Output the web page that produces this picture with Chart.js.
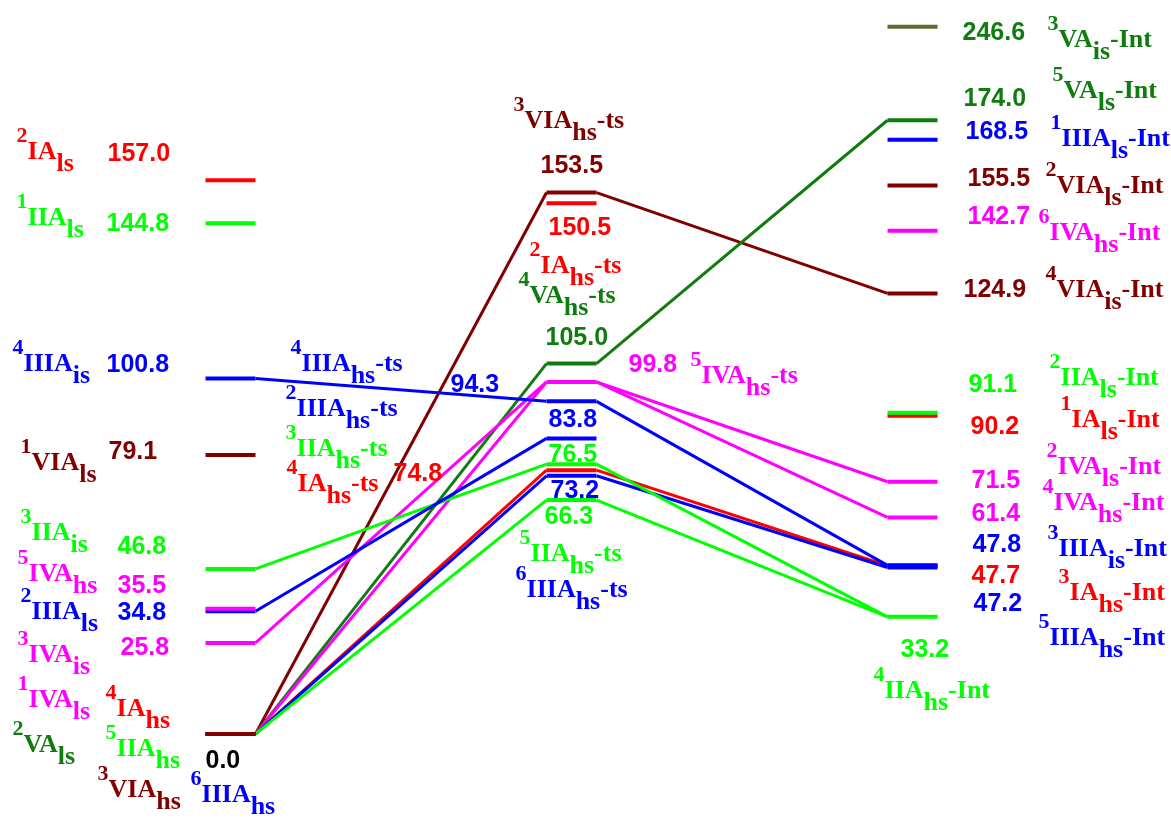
<!DOCTYPE html>
<html><head><meta charset="utf-8">
<script src="https://cdn.jsdelivr.net/npm/chart.js@4/dist/chart.umd.min.js"></script>
<style>html,body{margin:0;padding:0;background:#fff;overflow:hidden}canvas{display:block}</style>
</head><body>
<canvas id="c" width="1171" height="820"></canvas>
<script>
// ---------------- data ----------------
// species labels: ^spin + group + _state + suffix
const reactantLabels = ['^2IA_ls','^1IIA_ls','^4IIIA_is','^1VIA_ls','^3IIA_is','^2IIIA_ls','^5IVA_hs','^3IVA_is',
  '^1IVA_ls','^4IA_hs','^2VA_ls','^5IIA_hs','^6IIIA_hs','^3VIA_hs'];
const reactantValues = [157.0,144.8,100.8,79.1,46.8,34.8,35.5,25.8,0.0,0.0,0.0,0.0,0.0,0.0];

const tsLabels = ['^3VIA_hs-ts','^2IA_hs-ts','^4VA_hs-ts','^5IVA_hs-ts','^4IIIA_hs-ts','^2IIIA_hs-ts',
  '^3IIA_hs-ts','^4IA_hs-ts','^6IIIA_hs-ts','^5IIA_hs-ts'];
const tsValues = [153.5,150.5,105.0,99.8,94.3,83.8,76.5,74.8,73.2,66.3];

const intLabels = ['^3VA_is-Int','^5VA_ls-Int','^1IIIA_ls-Int','^2VIA_ls-Int','^6IVA_hs-Int','^4VIA_is-Int',
  '^1IA_ls-Int','^2IIA_ls-Int','^2IVA_ls-Int','^4IVA_hs-Int','^3IA_hs-Int','^3IIIA_is-Int','^5IIIA_hs-Int','^4IIA_hs-Int'];
const intValues = [246.6,174.0,168.5,155.5,142.7,124.9,90.2,91.1,71.5,61.4,47.7,47.8,47.2,33.2];

// pathways (index pairs)
const reactToTs = [[13,0],[10,2],[8,3],[7,3],[9,7],[12,8],[11,9],[4,6],[2,4],[5,5]];
const tsToInt   = [[0,5],[2,1],[3,8],[3,9],[7,10],[8,12],[9,13],[6,13],[4,11]];

// ---------------- style / layout ----------------
const groupColors = {IA:'#ff0000', IIA:'#00ff00', IIIA:'#0000ff', IVA:'#ff00ff', VA:'#107c10', VIA:'#800000'};
const levelColorOverride = {'2:0':'#5b6b33'};   // column:index
const numberColorOverride = {'0:13':'#000000'};
const BREAK_AT = 180, BREAK_SCALE = 0.308;       // broken axis above 180
const HW = 0.0733;                               // half width of a level
const LEVEL_W = 4, LINK_W = 3;
// label layout: [labelDx, labelDy, numberDx, numberDy] in px from level's left end
const reactLayout = [[-189,-21,-98,-19],[-189,2,-99,8],[-193,-7,-99,-6],[-185,15,-97,4],[-185,-29,-88,-15],
  [-185,8,-88,9],[-188,-28,-88,-16],[-188,19,-85,12],
  [-188,-27,null,null],[-100,-18,null,null],[-193,18,null,null],[-100,22,null,null],[-15,68,null,null],[-108,63,0,34]];
const tsLayout = [[-33,-65,-6,-20],[-17,70,2,32],[-28,-61,-1,-19],[144,1,82,-10],[-256,-30,-96,-9],
  [-261,-22,2,-11],[-261,-8,2,-2],[-260,21,-153,11],[-31,121,4,22],[-27,61,-2,24]];
const intLayout = [[160,20,75,13],[165,-22,76,-14],[163,6,78,-1],[158,7,80,0],[151,9,80,-7],[158,4,76,4],
  [173,11,83,18],[162,-28,81,-21],[159,-8,84,6],[155,-7,84,4],[171,34,84,17],[160,-9,85,-13],[151,78,86,44],[-14,81,13,40]];

const columns = [
  {labels: reactantLabels, values: reactantValues, layout: reactLayout},
  {labels: tsLabels, values: tsValues, layout: tsLayout},
  {labels: intLabels, values: intValues, layout: intLayout}
];

function axisPos(v){ return v <= BREAK_AT ? v : BREAK_AT + (v - BREAK_AT) * BREAK_SCALE; }
function parseLabel(s){
  const m = s.match(/^\^(\d)([A-Z]+)_([a-z]+)(-\w+)?$/);
  return {sup:m[1], main:m[2], sub:m[3], suffix:m[4]||''};
}
function colorOf(col, idx){ return groupColors[parseLabel(columns[col].labels[idx]).main]; }

// ---------------- datasets ----------------
const base = {showLine:true, pointRadius:0, pointHoverRadius:0, fill:false, borderCapStyle:'butt', tension:0};
const layers = [];
reactToTs.forEach(([a,b])=>{
  layers.push(Object.assign({}, base, {borderColor: colorOf(0,a), borderWidth: LINK_W,
    data:[{x:0+HW, y:axisPos(reactantValues[a])},{x:1-HW, y:axisPos(tsValues[b])}]}));
});
tsToInt.forEach(([a,b])=>{
  layers.push(Object.assign({}, base, {borderColor: colorOf(1,a), borderWidth: LINK_W,
    data:[{x:1+HW, y:axisPos(tsValues[a])},{x:2-HW, y:axisPos(intValues[b])}]}));
});
columns.forEach((c,ci)=>{
  c.values.forEach((v,i)=>{
    const col = levelColorOverride[ci+':'+i] || colorOf(ci,i);
    layers.push(Object.assign({}, base, {borderColor: col, borderWidth: LEVEL_W,
      data:[{x:ci-HW, y:axisPos(v)},{x:ci+HW, y:axisPos(v)}]}));
  });
});
layers.reverse(); // first dataset is drawn on top

// ---------------- text plugin ----------------
const SERIF = '"Liberation Serif","Times New Roman",serif';
const SANS = '"Liberation Sans",Arial,sans-serif';
function drawSpecies(ctx, label, x, y, color){
  const p = parseLabel(label);
  ctx.fillStyle = color;
  ctx.font = 'bold 22px ' + SERIF;
  ctx.fillText(p.sup, x, y - 17); x += ctx.measureText(p.sup).width;
  ctx.font = 'bold 26px ' + SERIF;
  ctx.fillText(p.main, x, y); x += ctx.measureText(p.main).width;
  ctx.fillText(p.sub, x, y + 12); x += ctx.measureText(p.sub).width;
  if (p.suffix) ctx.fillText(p.suffix, x, y);
}
const labelPlugin = {
  id:'levelLabels',
  afterDraw(chart){
    const ctx = chart.ctx, xs = chart.scales.x, ys = chart.scales.y;
    ctx.save();
    ctx.textAlign = 'left'; ctx.textBaseline = 'alphabetic';
    columns.forEach((c,ci)=>{
      c.values.forEach((v,i)=>{
        const x0 = xs.getPixelForValue(ci - HW), y0 = ys.getPixelForValue(axisPos(v));
        const L = c.layout[i], color = colorOf(ci,i);
        drawSpecies(ctx, c.labels[i], x0 + L[0], y0 + L[1], color);
        if (L[2] !== null){
          ctx.font = 'bold 25px ' + SANS;
          ctx.fillStyle = numberColorOverride[ci+':'+i] || color;
          ctx.fillText(v.toFixed(1), x0 + L[2], y0 + L[3]);
        }
      });
    });
    ctx.restore();
  }
};

new Chart(document.getElementById('c'), {
  type:'scatter',
  data:{datasets: layers},
  options:{
    responsive:false, animation:false, events:[],
    layout:{padding:0},
    plugins:{legend:{display:false}, tooltip:{enabled:false}, title:{display:false}},
    scales:{
      x:{type:'linear', min:-0.676, max:2.758, display:false},
      y:{type:'linear', min:-24.4, max:208.1, display:false}
    }
  },
  plugins:[labelPlugin]
});
</script>
</body></html>
